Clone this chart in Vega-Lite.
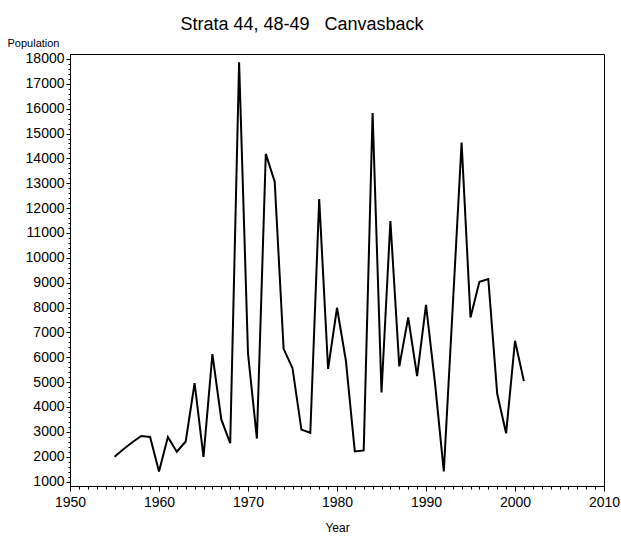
{
  "$schema": "https://vega.github.io/schema/vega-lite/v6.json",
  "autosize": "none",
  "width": 534,
  "height": 432,
  "padding": {"left": 70, "top": 54, "right": 17, "bottom": 53},
  "background": "white",
  "config": {
    "view": {"stroke": "#000", "strokeWidth": 1},
    "font": "Liberation Sans",
    "axis": {"domainColor": "#000", "tickColor": "#000", "labelColor": "#000", "titleColor": "#000", "grid": false, "labelFont": "Liberation Sans", "titleFont": "Liberation Sans", "titleFontWeight": "normal"}
  },
  "title": {"text": "Strata 44, 48-49\u00a0\u00a0\u00a0Canvasback", "fontSize": 18, "fontWeight": "normal", "font": "Liberation Sans", "color": "#000", "offset": 3, "dx": -35},
  "data": {"values": [
    {"Year": 1955, "Population": 2000},
    {"Year": 1956, "Population": 2300},
    {"Year": 1957, "Population": 2580},
    {"Year": 1958, "Population": 2830},
    {"Year": 1959, "Population": 2790},
    {"Year": 1960, "Population": 1400},
    {"Year": 1961, "Population": 2790},
    {"Year": 1962, "Population": 2200},
    {"Year": 1963, "Population": 2610},
    {"Year": 1964, "Population": 4960},
    {"Year": 1965, "Population": 1990},
    {"Year": 1966, "Population": 6130},
    {"Year": 1967, "Population": 3500},
    {"Year": 1968, "Population": 2540},
    {"Year": 1969, "Population": 17870},
    {"Year": 1970, "Population": 6150},
    {"Year": 1971, "Population": 2730},
    {"Year": 1972, "Population": 14180},
    {"Year": 1973, "Population": 13060},
    {"Year": 1974, "Population": 6340},
    {"Year": 1975, "Population": 5560},
    {"Year": 1976, "Population": 3090},
    {"Year": 1977, "Population": 2960},
    {"Year": 1978, "Population": 12360},
    {"Year": 1979, "Population": 5530},
    {"Year": 1980, "Population": 7990},
    {"Year": 1981, "Population": 5860},
    {"Year": 1982, "Population": 2210},
    {"Year": 1983, "Population": 2250},
    {"Year": 1984, "Population": 15830},
    {"Year": 1985, "Population": 4580},
    {"Year": 1986, "Population": 11480},
    {"Year": 1987, "Population": 5630},
    {"Year": 1988, "Population": 7600},
    {"Year": 1989, "Population": 5240},
    {"Year": 1990, "Population": 8110},
    {"Year": 1991, "Population": 5000},
    {"Year": 1992, "Population": 1410},
    {"Year": 1993, "Population": 8000},
    {"Year": 1994, "Population": 14640},
    {"Year": 1995, "Population": 7600},
    {"Year": 1996, "Population": 9040},
    {"Year": 1997, "Population": 9150},
    {"Year": 1998, "Population": 4530},
    {"Year": 1999, "Population": 2940},
    {"Year": 2000, "Population": 6660},
    {"Year": 2001, "Population": 5040}
  ]},
  "layer": [
    {
      "mark": {"type": "line", "color": "#000", "strokeWidth": 2, "strokeJoin": "miter"},
      "encoding": {
        "x": {"field": "Year", "type": "quantitative",
          "scale": {"domain": [1950, 2010], "nice": false, "zero": false},
          "axis": {"values": [1950, 1960, 1970, 1980, 1990, 2000, 2010], "format": "d", "labelFontSize": 14, "tickSize": 5, "labelPadding": 4, "title": "Year", "titleFontSize": 12, "titlePadding": 13, "labelFlush": false}},
        "y": {"field": "Population", "type": "quantitative",
          "scale": {"domain": [820, 18200], "nice": false, "zero": false},
          "axis": {"values": [1000, 2000, 3000, 4000, 5000, 6000, 7000, 8000, 9000, 10000, 11000, 12000, 13000, 14000, 15000, 16000, 17000, 18000], "format": "d", "labelFontSize": 14, "tickSize": 4, "labelPadding": 2, "title": "Population", "titleFontSize": 11, "titleAngle": 0, "titleAlign": "left", "titleBaseline": "alphabetic", "titleX": -63, "titleY": -8}}
      }
    },
    {
      "mark": {"type": "line", "opacity": 0},
      "encoding": {
        "x": {"field": "Year", "type": "quantitative",
          "scale": {"domain": [1950, 2010], "nice": false, "zero": false},
          "axis": {"orient": "bottom", "values": [1951,1952,1953,1954,1955,1956,1957,1958,1959,1961,1962,1963,1964,1965,1966,1967,1968,1969,1971,1972,1973,1974,1975,1976,1977,1978,1979,1981,1982,1983,1984,1985,1986,1987,1988,1989,1991,1992,1993,1994,1995,1996,1997,1998,1999,2001,2002,2003,2004,2005,2006,2007,2008,2009], "labels": false, "tickSize": 3, "title": null, "domain": false}},
        "y": {"field": "Population", "type": "quantitative",
          "scale": {"domain": [820, 18200], "nice": false, "zero": false},
          "axis": {"orient": "left", "values": [1200,1400,1600,1800,2200,2400,2600,2800,3200,3400,3600,3800,4200,4400,4600,4800,5200,5400,5600,5800,6200,6400,6600,6800,7200,7400,7600,7800,8200,8400,8600,8800,9200,9400,9600,9800,10200,10400,10600,10800,11200,11400,11600,11800,12200,12400,12600,12800,13200,13400,13600,13800,14200,14400,14600,14800,15200,15400,15600,15800,16200,16400,16600,16800,17200,17400,17600,17800], "labels": false, "tickSize": 2, "title": null, "domain": false}}
      }
    }
  ],
  "resolve": {"axis": {"x": "independent", "y": "independent"}}
}
